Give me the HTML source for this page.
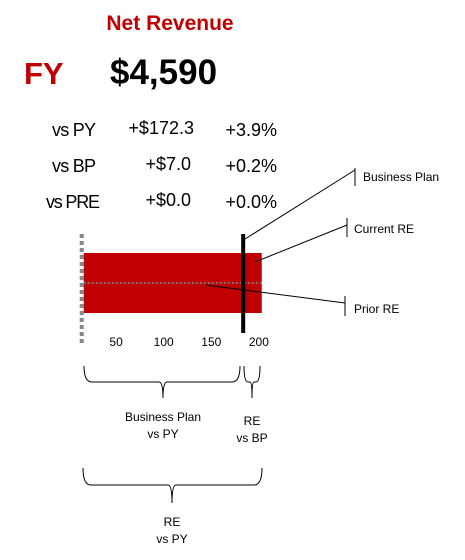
<!DOCTYPE html>
<html><head><meta charset="utf-8"><style>
html,body{margin:0;padding:0;background:#fff;width:465px;height:560px;overflow:hidden}
svg{display:block;font-family:"Liberation Sans",sans-serif}
</style></head><body>
<svg id="c" width="465" height="560">
<text x="170" y="30" text-anchor="middle" font-size="21" font-weight="bold" fill="#c00000">Net Revenue</text>
<text x="24" y="84" font-size="31" font-weight="bold" fill="#c00000">FY</text>
<text x="110" y="84" font-size="35" font-weight="bold" fill="#000">$4,590</text>
<g font-size="18" fill="#000" text-anchor="end">
<text x="96" y="136" textLength="44">vs PY</text>
<text x="194" y="134">+$172.3</text>
<text x="277" y="136">+3.9%</text>
<text x="96" y="172" textLength="44">vs BP</text>
<text x="191" y="170">+$7.0</text>
<text x="277" y="172">+0.2%</text>
<text x="100" y="208" textLength="54">vs PRE</text>
<text x="191" y="206">+$0.0</text>
<text x="277" y="208">+0.0%</text>
</g>
<g id="plot"></g>
<g fill="none" stroke="#000" stroke-width="1">
<path d="M245,239 L355,170 M355,168 V186"/>
<path d="M255,262 L347,225 M347,218 V237"/>
<path d="M205,285 L345,303 M345,296 V316"/>
<path d="M84,366 Q84,382 92,382 L159,382 Q163,382 163,398 Q163,382 167,382 L232,382 Q240,382 240,366"/>
<path d="M244,366 Q244,382 248,382 L250,382 Q252,382 252,398 Q252,382 254,382 L256,382 Q260,382 260,366"/>
<path d="M83,468 Q83,485 91,485 L168,485 Q172,485 172,503 Q172,485 176,485 L254,485 Q262,485 262,468"/>
</g>
<g font-size="12" fill="#000">
<text x="363" y="181">Business Plan</text>
<text x="354" y="233">Current RE</text>
<text x="354" y="313">Prior RE</text>
<g text-anchor="middle">
<text x="163" y="421">Business Plan</text>
<text x="163" y="438">vs PY</text>
<text x="252" y="425">RE</text>
<text x="252" y="442">vs BP</text>
<text x="172" y="526">RE</text>
<text x="172" y="543">vs PY</text>
</g></g>
</svg>
<script>
const ticks=[50,100,150,200];
const currentRE=[203];
const businessPlan=[183.5];
const priorRE=[203];
const axisMin=[16];
const NS="http://www.w3.org/2000/svg";
const g=document.getElementById('plot');
function x(v){return 68.5+v*0.952;}
function mk(t,a){const e=document.createElementNS(NS,t);for(const k in a)e.setAttribute(k,a[k]);g.appendChild(e);return e;}
const bar=mk('rect',{x:x(axisMin[0]),y:253,width:x(currentRE[0])-x(axisMin[0]),height:60,fill:'#c00000'});


const pr=mk('line',{x1:x(axisMin[0]),x2:x(priorRE[0]),y1:283,y2:283,stroke:'#777','stroke-width':2,'stroke-dasharray':'2,2'});


const bp=mk('line',{x1:x(businessPlan[0]),x2:x(businessPlan[0]),y1:234,y2:333,stroke:'#000','stroke-width':4});


const ax=mk('line',{x1:x(axisMin[0])-2,x2:x(axisMin[0])-2,y1:234,y2:345,stroke:'#888','stroke-width':4,'stroke-dasharray':'4,3'});


ticks.forEach(t=>{const e=mk('text',{x:x(t),y:346,'text-anchor':'middle','font-size':12,fill:'#000'});e.textContent=t;

});
</script>
</body></html>
